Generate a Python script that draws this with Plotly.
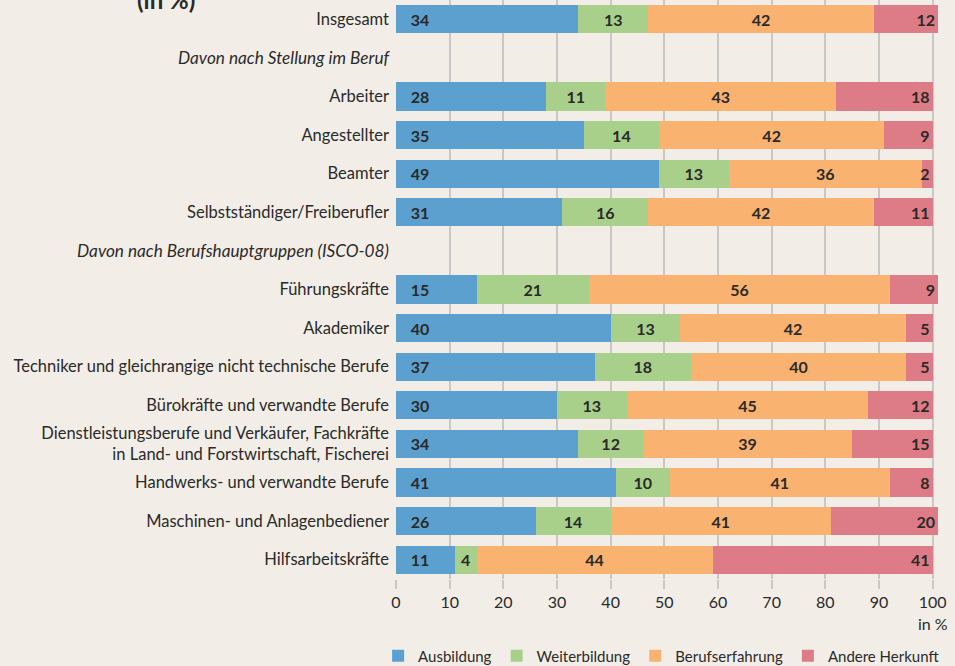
import plotly.graph_objects as go

# Row labels (top to bottom); group headers carry no bars
HDR = "<i><span style='font-size:17.2px'>{}</span></i>"
rows = [
    "Insgesamt",
    HDR.format("Davon nach Stellung im Beruf"),
    "Arbeiter",
    "Angestellter",
    "Beamter",
    "Selbstständiger/Freiberufler",
    HDR.format("Davon nach Berufshauptgruppen (ISCO-08)"),
    "Führungskräfte",
    "Akademiker",
    "Techniker und gleichrangige nicht technische Berufe",
    "Bürokräfte und verwandte Berufe",
    "Dienstleistungsberufe und Verkäufer, Fachkräfte<br>in Land- und Forstwirtschaft, Fischerei",
    "Handwerks- und verwandte Berufe",
    "Maschinen- und Anlagenbediener",
    "Hilfsarbeitskräfte",
]

ausbildung      = [34, None, 28, 35, 49, 31, None, 15, 40, 37, 30, 34, 41, 26, 11]
weiterbildung   = [13, None, 11, 14, 13, 16, None, 21, 13, 18, 13, 12, 10, 14, 4]
berufserfahrung = [42, None, 43, 42, 36, 42, None, 56, 42, 40, 45, 39, 41, 41, 44]
andere_herkunft = [12, None, 18, 9, 2, 11, None, 9, 5, 5, 12, 15, 8, 20, 41]

x_ticks = [0, 10, 20, 30, 40, 50, 60, 70, 80, 90, 100]

FONT = "Lato"
TEXT = "#2a2a2a"
BG = "#f2eee7"
GRID = "#c8c8c8"

series = [
    ("Ausbildung", ausbildung, "#5ba0cf", "start", "\u00a0\u00a0\u00a0%{x}"),
    ("Weiterbildung", weiterbildung, "#a9d08a", "middle", "%{x}"),
    ("Berufserfahrung", berufserfahrung, "#f9b26f", "middle", "%{x}"),
    ("Andere Herkunft", andere_herkunft, "#dd7c86", "end", "%{x}"),
]

fig = go.Figure()
for name, vals, color, anchor, tmpl in series:
    fig.add_trace(go.Bar(
        name=name,
        y=rows,
        x=vals,
        orientation="h",
        marker=dict(color=color, line=dict(width=0)),
        texttemplate=tmpl,
        textposition="inside",
        insidetextanchor=anchor,
        constraintext="none",
        cliponaxis=False,
        textfont=dict(family=FONT, size=16, color=TEXT, weight="bold"),
        hoverinfo="skip",
    ))

fig.update_layout(
    barmode="stack",
    bargap=0.27,
    width=955,
    height=666,
    margin=dict(l=396, r=17, t=0, b=87, autoexpand=False),
    paper_bgcolor=BG,
    plot_bgcolor=BG,
    font=dict(family=FONT, size=16, color=TEXT),
    showlegend=True,
    legend=dict(
        orientation="h",
        x=-0.033,
        xanchor="left",
        y=-0.133,
        yanchor="middle",
        font=dict(family=FONT, size=15, color=TEXT),
        bgcolor="rgba(0,0,0,0)",
        itemwidth=30,
        traceorder="normal",
    ),
    xaxis=dict(
        range=[0, 101],
        tickvals=x_ticks,
        showgrid=True,
        gridcolor=GRID,
        gridwidth=2,
        zeroline=False,
        showline=False,
        ticks="outside",
        ticklen=9,
        tickwidth=2,
        tickcolor=GRID,
        ticklabelstandoff=0,
        tickfont=dict(family=FONT, size=16, color=TEXT),
        fixedrange=True,
    ),
    yaxis=dict(
        categoryorder="array",
        categoryarray=rows,
        autorange="reversed",
        showgrid=False,
        zeroline=False,
        showline=False,
        ticks="",
        ticklabelstandoff=6,
        tickfont=dict(family=FONT, size=16.5, color=TEXT),
        fixedrange=True,
    ),
    annotations=[
        dict(
            text="in %",
            xref="paper", yref="paper",
            x=1.022, y=-0.076,
            xanchor="right", yanchor="middle",
            showarrow=False,
            font=dict(family=FONT, size=16, color=TEXT),
        ),
        dict(
            text="<b>(in %)</b>",
            xref="paper", yref="paper",
            x=-0.424, y=0.972,
            xanchor="center", yanchor="bottom",
            showarrow=False,
            font=dict(family=FONT, size=24, color=TEXT),
        ),
    ],
)

fig.write_html("out.html")
